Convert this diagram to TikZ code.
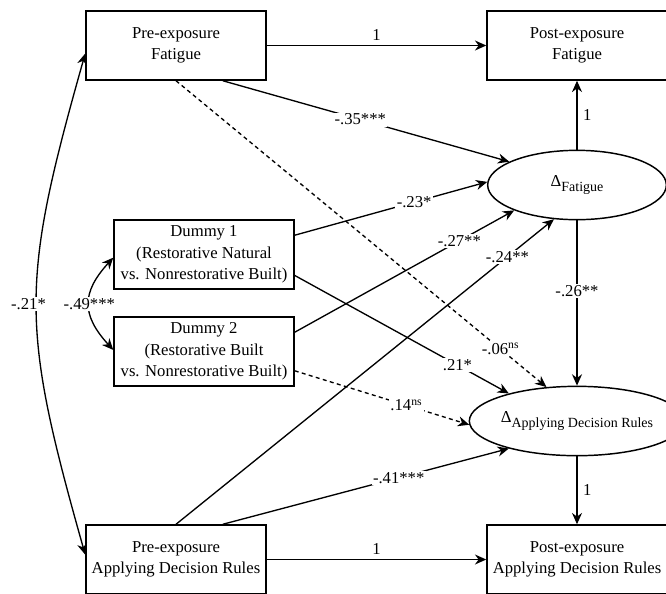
\documentclass[tikz,border=0pt]{standalone}
\usepackage{fontspec}
\setmainfont{Liberation Serif}
\usetikzlibrary{arrows.meta,shapes.geometric}
\newcommand{\chg}[1]{Δ\raisebox{-0.55ex}{\fontsize{10.5}{12}\selectfont #1}}
\begin{document}
\begin{tikzpicture}[x=0.75pt, y=-0.75pt, font=\fontsize{12.5}{16}\selectfont,
    obsbox/.style={draw, line width=1.1pt, minimum width=135pt, minimum height=51.75pt, align=center, inner sep=2pt},
    latent/.style={draw, ellipse, line width=1.1pt, minimum width=134pt, minimum height=52pt, inner sep=0pt},
    regr/.style={line width=1pt, -{Stealth[length=8.5pt, width=7.5pt]}},
    regrns/.style={regr, dash pattern=on 3pt off 2.5pt},
    corr/.style={line width=1pt, {Stealth[length=8.5pt, width=7.5pt]}-{Stealth[length=8.5pt, width=7.5pt]}},
    coef/.style={fill=white, inner sep=1pt}]
    \useasboundingbox (0,0) rectangle (666,593);
    % measured variables and change scores
    \node[obsbox] (prefat) at (176,45.5) {Pre-exposure\\Fatigue};
    \node[obsbox] (postfat) at (577,45.5) {Post-exposure\\Fatigue};
    \node[latent] (dfat) at (577,185) {\chg{Fatigue}};
    \node[obsbox] (dum1) at (204,254.5) {Dummy 1\\(Restorative Natural\\vs. Nonrestorative Built)};
    \node[obsbox] (dum2) at (204,351.5) {Dummy 2\\(Restorative Built\\vs. Nonrestorative Built)};
    \node[latent] (dadr) at (577,421) {\chg{Applying Decision Rules}};
    \node[obsbox] (preadr) at (176,559.5) {Pre-exposure\\Applying Decision Rules};
    \node[obsbox] (postadr) at (577,559.5) {Post-exposure\\Applying Decision Rules};
    % paths
    \draw[regr] (prefat) -- node[above, inner sep=3pt] {1} (postfat);
    \draw[regr] (prefat.-37) -- node[coef, pos=0.48] {-.35***} (dfat.161);
    \draw[regrns] (prefat.south) -- node[coef, pos=0.876] {-.06\textsuperscript{ns}} (dadr.132);
    \draw[regr] (dum1.12) -- node[coef, pos=0.62] {-.23*} (dfat.178);
    \draw[regr] (dum1.-13) -- node[coef, pos=0.76] {.21*} (dadr.158);
    \draw[regr] (dum2.12) -- node[coef, pos=0.75] {-.27**} (dfat.202);
    \draw[regrns] (dum2.-12) -- node[coef, pos=0.64] {.14\textsuperscript{ns}} (dadr.182);
    \draw[regr] (preadr.north) -- node[coef, pos=0.877] {-.24**} (dfat.236);
    \draw[regr] (preadr.37) -- node[coef, pos=0.615] {-.41***} (dadr.202);
    \draw[regr] (preadr) -- node[above, inner sep=3pt] {1} (postadr);
    \draw[regr] (dfat) -- node[right, inner sep=4pt] {1} (postfat);
    \draw[regr] (dfat) -- node[coef, pos=0.43] {-.26**} (dadr);
    \draw[regr] (dadr) -- node[right, inner sep=4pt] {1} (postadr);
    % covariances
    \draw[corr] (prefat.185) .. controls +(-65,230) and +(-65,-230) .. (preadr.177) node[coef, pos=0.5, xshift=-6pt] {-.21*};
    \draw[corr] (dum1.182) .. controls +(-32,35) and +(-32,-35) .. (dum2.179) node[coef, pos=0.5] {-.49***};
\end{tikzpicture}
\end{document}
